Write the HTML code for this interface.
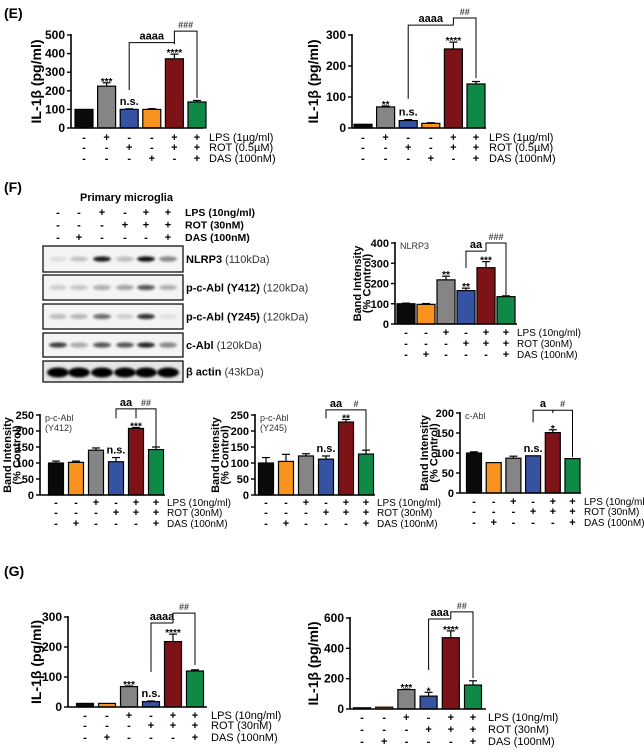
<!DOCTYPE html>
<html><head><meta charset="utf-8">
<style>
body{margin:0;background:#fff;width:644px;height:750px;overflow:hidden;font-family:"Liberation Sans",Arial,sans-serif}
svg text{font-family:"Liberation Sans",Arial,sans-serif}
</style></head><body>
<svg id="fig" width="644" height="750" viewBox="0 0 644 750" xmlns="http://www.w3.org/2000/svg">
<defs><filter id="blur" x="-50%" y="-100%" width="200%" height="300%"><feGaussianBlur stdDeviation="1.3"/></filter></defs>
<text x="4" y="18" font-size="14" font-weight="bold">(E)</text>
<text x="4" y="192" font-size="14" font-weight="bold">(F)</text>
<text x="4" y="576" font-size="14" font-weight="bold">(G)</text>
<text x="80" y="201" font-size="11" font-weight="bold">Primary microglia</text>
</svg>
<script>
const C={k:"#0a0a0a",g:"#858585",b:"#3652a3",o:"#f7931e",r:"#7d1217",n:"#0f8a46"};
// ---- data ----
const e1Colors=["k","g","b","o","r","n"];
const e1Values=[100,225,100,100,372,140];
const e1Errors=[0,18,3,4,25,8];
const e1Stars=["","***","n.s.","","****",""];
const e1Lps=["-","+","-","-","+","+"],e1Rot=["-","-","+","-","+","+"],e1Das=["-","-","-","+","-","+"];
const e1Ticks=[0,100,200,300,400,500];
const e1Brackets=[[2,4,459,204,452,"aaaa"],[4,5,521,452,161,"###"]];

const e2Values=[12,68,24,15,255,142];
const e2Errors=[0,3,3,2,22,8];
const e2Stars=["","**","n.s.","","****",""];
const e2Ticks=[0,100,200,300];
const e2Brackets=[[2,4,332,94,332,"aaaa"],[4,5,355,332,161,"##"]];

const fColors=["k","o","g","b","r","n"];
const fLps=["-","-","+","-","+","+"],fRot=["-","-","-","+","+","+"],fDas=["-","+","-","-","-","+"];
const nlrpValues=[100,97,218,165,278,135];
const nlrpErrors=[3,4,18,12,30,4];
const nlrpStars=["","","**","**","***",""];
const nlrpTicks=[0,100,200,300,400];
const nlrpBrackets=[[3,4,360,277,360,"aa"],[4,5,400,360,143,"###"]];

const y412Values=[100,102,140,104,208,142];
const y412Errors=[6,4,7,13,3,8];
const y412Stars=["","","","n.s.","***",""];
const y412Ticks=[0,50,100,150,200,250];
const y412Brackets=[[3,4,269,240,240,"aa"],[4,5,269,240,150,"##"]];

const y245Values=[100,105,122,112,228,128];
const y245Errors=[17,22,7,10,8,12];
const y245Stars=["","","","n.s.","**",""];
const y245Brackets=[[3,4,266,240,266,"aa"],[4,5,266,266,140,"#"]];

const cablValues=[100,76,87,93,151,86];
const cablErrors=[3,0,5,0,7,0];
const cablStars=["","","","n.s.","*",""];
const cablTicks=[0,50,100,150,200];
const cablBrackets=[[3,4,207,177,207,"a"],[4,5,207,200,90,"#"]];

const g1Values=[12,12,68,18,218,120];
const g1Errors=[0,0,2,2,25,4];
const g1Stars=["","","***","n.s.","****",""];
const g1Ticks=[0,100,200,300];
const g1Brackets=[[3,4,280,117,280,"aaaa"],[4,5,313,280,140,"##"]];

const g2Values=[8,12,128,85,470,158];
const g2Errors=[0,0,3,25,45,28];
const g2Stars=["","","***","*","****",""];
const g2Ticks=[0,200,400,600];
const g2Brackets=[[3,4,593,257,593,"aaa"],[4,5,640,593,204,"##"]];

const blotNames=["NLRP3","p-c-Abl (Y412)","p-c-Abl (Y245)","c-Abl","β actin"];
const blotKda=["(110kDa)","(120kDa)","(120kDa)","(120kDa)","(43kDa)"];
const blotNlrp3=[0.08,0.2,0.9,0.22,0.95,0.45];
const blotY412=[0.15,0.18,0.28,0.32,0.65,0.28];
const blotY245=[0.22,0.25,0.55,0.15,0.8,0.08];
const blotCabl=[0.75,0.3,0.65,0.65,0.85,0.45];
const blotActin=[1,1,1,1,1,1];

// ---- drawing ----
const NS="http://www.w3.org/2000/svg";
const fig=document.getElementById('fig');
function el(tag,attrs,parent,txt){const e=document.createElementNS(NS,tag);for(const k in attrs)e.setAttribute(k,attrs[k]);if(txt!==undefined)e.textContent=txt;(parent||fig).appendChild(e);return e;}

function chart(name,o){
  const g=el('g',{});
  
  
  const y=v=>o.zeroY-v*(o.zeroY-o.topY)/o.max;
  const x=i=>o.x0+i*o.step;
  o.values.forEach((v,i)=>{
    const cx=x(i),top=y(v+o.errors[i]);
    if(o.errors[i]>0){
      const l=el('line',{x1:cx,x2:cx,y1:y(v),y2:top,stroke:"#000","stroke-width":1.2},g);
      
      
      const c=el('line',{x1:cx-4,x2:cx+4,y1:top,y2:top,stroke:"#000","stroke-width":1.2},g);
      
      
    }
    const r=el('rect',{x:cx-o.bw/2,y:y(v),width:o.bw,height:o.zeroY-y(v),fill:C[o.colors[i]],stroke:"#000","stroke-width":1.2},g);
    
    
    if(o.stars[i]){
      const isNs=o.stars[i]==="n.s.";
      const t=el('text',{x:cx,y:top-(isNs?4:1)+(isNs?0:3),"text-anchor":"middle","font-size":isNs?11:10,"font-weight":"bold"},g,o.stars[i]);
      
      
    }
  });
  const ax=el('line',{x1:o.ax,x2:o.ax,y1:o.topY-1,y2:o.zeroY,stroke:"#000","stroke-width":1.6},g);
  
  
  const xa=el('line',{x1:o.ax,x2:o.endX,y1:o.zeroY,y2:o.zeroY,stroke:"#000","stroke-width":1.6},g);
  
  
  o.ticks.forEach(t=>{
    el('line',{x1:o.ax-4,x2:o.ax,y1:y(t),y2:y(t),stroke:"#000","stroke-width":1.4},g);
    const tl=el('text',{x:o.ax-6,y:y(t)+4,"text-anchor":"end","font-size":o.tickFs||12,"font-weight":"bold"},g,t);
    
    
  });
  const tx=o.titleX, ty=(o.topY+o.zeroY)/2;
  if(o.title2){
    const t=el('text',{transform:`translate(${tx},${ty}) rotate(-90)`,"text-anchor":"middle","font-size":11,"font-weight":"bold"},g);
    
    
    el('tspan',{x:0,dy:0},t,o.title);
    el('tspan',{x:0,dy:9.5},t,o.title2);
  } else {
    const t=el('text',{transform:`translate(${tx},${ty}) rotate(-90)`,"text-anchor":"middle","font-size":14,"font-weight":"bold"},g,o.title);
    
    
  }
  if(o.inner){o.inner.forEach((s,k)=>{
    const t=el('text',{x:o.ax+5,y:o.topY+6+k*10,"font-size":9,fill:"#333"},g,s);
    
    
  });}
  o.brackets.forEach(b=>{
    const x1=x(b[0]),x2=x(b[1]),yt=y(b[2]);
    const p=el('path',{d:`M${x1},${y(b[3])}V${yt}H${x2}V${y(b[4])}`,fill:"none",stroke:"#000","stroke-width":1},g);
    
    
    const t=el('text',{x:(x1+x2)/2,y:yt-3,"text-anchor":"middle","font-size":b[5][0]==="#"?9:11,"font-weight":"bold",fill:b[5][0]==="#"?"#444":"#000"},g,b[5]);
    
    
  });
  o.rows.forEach((row,r)=>{
    row.forEach((s,i)=>{
      const t=el('text',{x:x(i),y:o.rowY[r],"text-anchor":"middle","font-size":11,"font-weight":"bold"},g,s);
      
      
    });
    const l=el('text',{x:o.labelX,y:o.rowY[r],"font-size":o.labelFs||11},g,o.rowLabels[r]);
    
    
  });
}
const eLabels=["LPS (1µg/ml)","ROT (0.5µM)","DAS (100nM)"];
const fLabels=["LPS (10ng/ml)","ROT (30nM)","DAS (100nM)"];

chart('chart-e-left',{ax:71,zeroY:128,topY:35,max:500,ticks:e1Ticks,x0:84,step:22.6,bw:18,endX:203,colors:e1Colors,values:e1Values,errors:e1Errors,stars:e1Stars,brackets:e1Brackets,rows:[e1Lps,e1Rot,e1Das],rowY:[141,151,162],rowLabels:eLabels,labelX:209,title:"IL-1β (pg/ml)",titleX:41});
chart('chart-e-right',{ax:352,zeroY:128,topY:35,max:300,ticks:e2Ticks,x0:363,step:22.6,bw:18,endX:486,colors:e1Colors,values:e2Values,errors:e2Errors,stars:e2Stars,brackets:e2Brackets,rows:[e1Lps,e1Rot,e1Das],rowY:[141,151,162],rowLabels:eLabels,labelX:489,title:"IL-1β (pg/ml)",titleX:318});
chart('chart-nlrp3',{ax:395,zeroY:324,topY:243,max:400,ticks:nlrpTicks,tickFs:11,x0:406,step:20,bw:18,endX:517,colors:fColors,values:nlrpValues,errors:nlrpErrors,stars:nlrpStars,brackets:nlrpBrackets,rows:[fLps,fRot,fDas],rowY:[336,347,358],rowLabels:fLabels,labelX:517,labelFs:10,title:"Band Intensity",title2:"(% Control)",titleX:361,inner:["NLRP3"]});
chart('chart-y412',{ax:40,zeroY:495,topY:415,max:250,ticks:y412Ticks,tickFs:11,x0:56,step:20,bw:15,endX:165,colors:fColors,values:y412Values,errors:y412Errors,stars:y412Stars,brackets:y412Brackets,rows:[fLps,fRot,fDas],rowY:[506,516,527],rowLabels:fLabels,labelX:167,labelFs:10,title:"Band Intensity",title2:"(% Control)",titleX:11,inner:["p-c-Abl","(Y412)"]});
chart('chart-y245',{ax:255,zeroY:495,topY:415,max:250,ticks:y412Ticks,tickFs:11,x0:266,step:20,bw:15,endX:375,colors:fColors,values:y245Values,errors:y245Errors,stars:y245Stars,brackets:y245Brackets,rows:[fLps,fRot,fDas],rowY:[506,516,527],rowLabels:fLabels,labelX:377,labelFs:10,title:"Band Intensity",title2:"(% Control)",titleX:219,inner:["p-c-Abl","(Y245)"]});
chart('chart-cabl',{ax:460,zeroY:493,topY:413,max:200,ticks:cablTicks,tickFs:11,x0:474,step:19.7,bw:15,endX:581,colors:fColors,values:cablValues,errors:cablErrors,stars:cablStars,brackets:cablBrackets,rows:[fLps,fRot,fDas],rowY:[505,515,526],rowLabels:fLabels,labelX:584,labelFs:10,title:"Band Intensity",title2:"(% Control)",titleX:428,inner:["c-Abl"]});
chart('chart-g-left',{ax:68,zeroY:707,topY:617,max:300,ticks:g1Ticks,x0:85,step:22,bw:17,endX:207,colors:fColors,values:g1Values,errors:g1Errors,stars:g1Stars,brackets:g1Brackets,rows:[fLps,fRot,fDas],rowY:[719,729,741],rowLabels:fLabels,labelX:211,title:"IL-1β (pg/ml)",titleX:41});
chart('chart-g-right',{ax:350,zeroY:709,topY:618,max:600,ticks:g2Ticks,x0:362,step:22.2,bw:17,endX:486,colors:fColors,values:g2Values,errors:g2Errors,stars:g2Stars,brackets:g2Brackets,rows:[fLps,fRot,fDas],rowY:[721,733,745],rowLabels:fLabels,labelX:488,title:"IL-1β (pg/ml)",titleX:318});

// ---- western blot ----
const lanes=[58,79,102,125,146,168];
const blotSets=[blotNlrp3,blotY412,blotY245,blotCabl,blotActin];
const boxY=[246,275,304,333,361],boxH=[26,25,25,24,21];
const bw=el('g',{});


[fLps,fRot,fDas].forEach((row,r)=>{
  row.forEach((s,i)=>{const t=el('text',{x:lanes[i],y:216+r*12.5,"text-anchor":"middle","font-size":11,"font-weight":"bold"},bw,s);
    
    });
  const l=el('text',{x:185,y:216+r*12.5,"font-size":10.5,"font-weight":"bold"},bw,fLabels[r]);
  
  
});
blotSets.forEach((set,k)=>{
  const gy=boxY[k],h=boxH[k];
  const r=el('rect',{x:43,y:gy,width:140,height:h,fill:k===4?"#e6e6e6":"#f4f4f4",stroke:"#111","stroke-width":1.3},bw);
  
  
  set.forEach((v,i)=>{
    const b=el('ellipse',{cx:lanes[i],cy:gy+h/2+(k===4?1:0),rx:k===4?11:9,ry:k===4?5:2.6,fill:"#000",opacity:v,filter:"url(#blur)"},bw);
    
    
  });
  const t=el('text',{x:186,y:gy+h/2+4,"font-size":11},bw);
  
  
  el('tspan',{"font-weight":"bold"},t,blotNames[k]+" ");
  el('tspan',{fill:"#333"},t,blotKda[k]);
});
</script>
</body></html>
